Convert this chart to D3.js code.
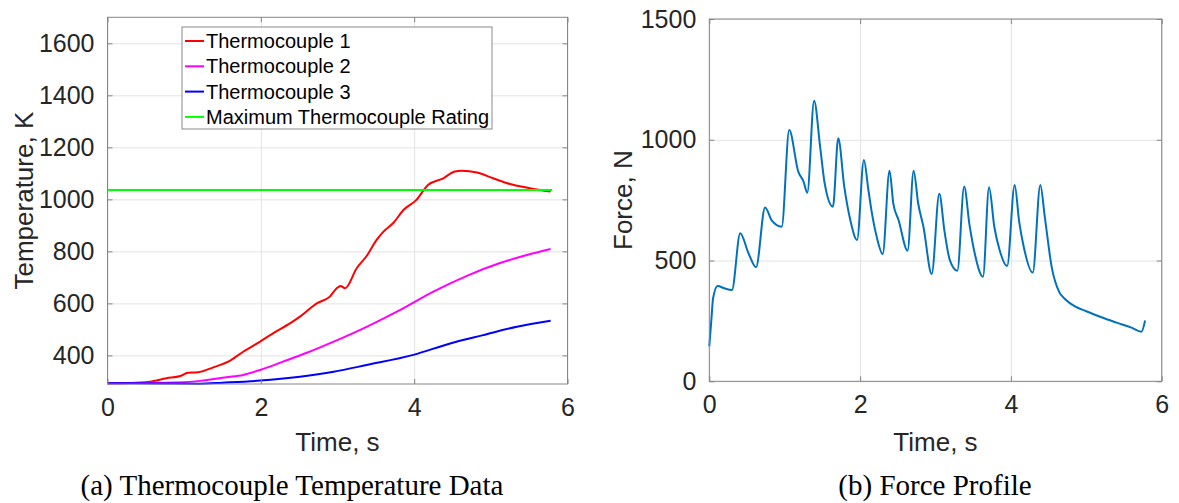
<!DOCTYPE html>
<html>
<head>
<meta charset="utf-8">
<script src="https://cdn.jsdelivr.net/npm/d3@7"></script>
<style>
  body { margin: 0; background: #fff; }
  svg { display: block; }
</style>
</head>
<body>
<div id="fig"></div>
<script>
// Thermocouple readings (time in s, temperature in K)
var tc1Time = [0, 0.3, 0.55, 0.77, 0.95, 1.05, 1.18, 1.38, 1.6, 1.77, 1.99, 2.16, 2.38, 2.51, 2.73, 2.9, 2.99, 3.04, 3.1, 3.25, 3.38, 3.51, 3.6, 3.73, 3.86, 4.03, 4.18, 4.38, 4.53, 4.62, 4.82, 5.03, 5.25, 5.51, 5.78];
var tc1Temp = [293, 294, 299, 312, 321, 333, 335, 354, 380, 414, 453, 485, 523, 549, 600, 626, 658, 667, 658, 735, 782, 844, 876, 910, 959, 998, 1055, 1081, 1107, 1110, 1103, 1081, 1059, 1043, 1030];

var tc2Time = [0, 0.77, 1.21, 1.55, 1.77, 1.99, 2.29, 2.6, 2.95, 3.38, 3.82, 4.25, 4.68, 5.12, 5.47, 5.78];
var tc2Temp = [293, 295, 302, 316, 325, 344, 376, 410, 453, 510, 575, 645, 705, 755, 786, 809];

var tc3Time = [0, 0.6, 1.2, 1.5, 1.99, 2.51, 2.95, 3.38, 3.99, 4.47, 4.9, 5.34, 5.78];
var tc3Temp = [293, 292, 291, 295, 303, 318, 337, 363, 402, 446, 478, 510, 533];

var ratingTemp = 1036;
var ratingTime = [0, 5.8];

// Force profile (time in s, force in N)
var forceTime = [0, 0.03, 0.05, 0.11, 0.2, 0.3, 0.41, 0.52, 0.62, 0.74, 0.83, 0.96, 1.06, 1.18, 1.25, 1.3, 1.39, 1.47, 1.53, 1.64, 1.71, 1.79, 1.87, 1.96, 2.05, 2.11, 2.15, 2.22, 2.3, 2.39, 2.44, 2.51, 2.63, 2.71, 2.77, 2.84, 2.95, 3.05, 3.12, 3.19, 3.29, 3.38, 3.45, 3.52, 3.63, 3.71, 3.78, 3.85, 3.95, 4.05, 4.11, 4.17, 4.29, 4.39, 4.45, 4.54, 4.64, 4.72, 4.85, 5.0, 5.2, 5.4, 5.6, 5.73, 5.78];
var force = [145, 266, 344, 395, 385, 378, 613, 530, 472, 720, 665, 640, 1040, 868, 827, 781, 1162, 971, 820, 723, 1006, 806, 668, 585, 916, 792, 709, 599, 527, 872, 737, 668, 541, 872, 737, 640, 444, 776, 620, 502, 458, 806, 650, 530, 433, 803, 640, 544, 477, 813, 660, 557, 450, 813, 680, 475, 370, 340, 310, 290, 265, 243, 222, 205, 252];

var timeTicks = [0, 2, 4, 6];
var tempTicks = [400, 600, 800, 1000, 1200, 1400, 1600];
var forceTicks = [0, 500, 1000, 1500];

var legendNames = ["Thermocouple 1", "Thermocouple 2", "Thermocouple 3", "Maximum Thermocouple Rating"];
var legendColors = ["#ff0000", "#ff00ff", "#0000ff", "#00ff00"];

var width = 1179, height = 503;
var sansFont = "'Liberation Sans', Arial, sans-serif";
var serifFont = "'Liberation Serif', 'Times New Roman', serif";

var svg = d3.select("#fig")
  .append("svg")
  .attr("width", width)
  .attr("height", height)
  .style("font-family", sansFont);

// draws one matlab-style axes box with grid, ticks and labels
function makeAxes(box, xDomain, yDomain, xTicks, yTicks, xTitle, yTitle, yTitleX) {
  var x = d3.scaleLinear().domain(xDomain).range([box.left, box.right]);
  var y = d3.scaleLinear().domain(yDomain).range([box.bottom, box.top]);
  var g = svg.append("g");

  // grid
  g.append("g")
    .attr("transform", `translate(0,${box.bottom})`)
    .call(d3.axisBottom(x).tickValues(xTicks).tickSize(-(box.bottom - box.top)).tickFormat(""))
    .call(a => a.select(".domain").remove())
    .call(a => a.selectAll(".tick line").attr("stroke", "#e3e3e3").attr("stroke-width", 1));
  g.append("g")
    .attr("transform", `translate(${box.left},0)`)
    .call(d3.axisLeft(y).tickValues(yTicks).tickSize(-(box.right - box.left)).tickFormat(""))
    .call(a => a.select(".domain").remove())
    .call(a => a.selectAll(".tick line").attr("stroke", "#e3e3e3").attr("stroke-width", 1));

  var plot = g.append("g");

  // box and inward ticks
  var frame = g.append("g");
  frame.append("rect")
    .attr("x", box.left).attr("y", box.top)
    .attr("width", box.right - box.left).attr("height", box.bottom - box.top)
    .attr("fill", "none").attr("stroke", "#858585").attr("stroke-width", 1);

  frame.append("g")
    .attr("transform", `translate(0,${box.bottom})`)
    .call(d3.axisBottom(x).tickValues(xTicks).tickSize(-5).tickPadding(14).tickFormat(d3.format("d")))
    .call(a => a.select(".domain").remove())
    .call(a => a.selectAll(".tick line").attr("stroke", "#858585"))
    .call(a => a.selectAll("text").attr("fill", "#262626").style("font-size", "25px").style("font-family", sansFont).attr("dy", "0.71em"));
  frame.append("g")
    .attr("transform", `translate(0,${box.top})`)
    .call(d3.axisTop(x).tickValues(xTicks).tickSize(-5).tickFormat(""))
    .call(a => a.select(".domain").remove())
    .call(a => a.selectAll(".tick line").attr("stroke", "#858585"));
  frame.append("g")
    .attr("transform", `translate(${box.left},0)`)
    .call(d3.axisLeft(y).tickValues(yTicks).tickSize(-5).tickPadding(13).tickFormat(d3.format("d")))
    .call(a => a.select(".domain").remove())
    .call(a => a.selectAll(".tick line").attr("stroke", "#858585"))
    .call(a => a.selectAll("text").attr("fill", "#262626").style("font-size", "25px").style("font-family", sansFont));
  frame.append("g")
    .attr("transform", `translate(${box.right},0)`)
    .call(d3.axisRight(y).tickValues(yTicks).tickSize(-5).tickFormat(""))
    .call(a => a.select(".domain").remove())
    .call(a => a.selectAll(".tick line").attr("stroke", "#858585"));

  // titles
  g.append("text")
    .attr("x", (box.left + box.right) / 2)
    .attr("y", 451)
    .attr("text-anchor", "middle")
    .attr("fill", "#262626")
    .style("font-size", "26px")
    .text(xTitle);
  g.append("text")
    .attr("transform", `translate(${yTitleX},${(box.top + box.bottom) / 2}) rotate(-90)`)
    .attr("text-anchor", "middle")
    .attr("fill", "#262626")
    .style("font-size", "26px")
    .text(yTitle);

  return {x: x, y: y, plot: plot, frame: frame};
}

// (a) temperatures
var boxA = {left: 107.5, right: 567.5, top: 17.3, bottom: 384};
var axA = makeAxes(boxA, [0, 6], [290, 1700], timeTicks, tempTicks, "Time, s", "Temperature, K", 33);

var tempSeries = [
  {time: tc1Time, vals: tc1Temp, color: legendColors[0]},
  {time: tc2Time, vals: tc2Temp, color: legendColors[1]},
  {time: tc3Time, vals: tc3Temp, color: legendColors[2]},
  {time: ratingTime, vals: ratingTime.map(() => ratingTemp), color: legendColors[3]}
];

var lineA = d3.line()
  .x(d => axA.x(d[0]))
  .y(d => axA.y(d[1]))
  .curve(d3.curveMonotoneX);

axA.plot.selectAll("path")
  .data(tempSeries)
  .join("path")
    .attr("fill", "none")
    .attr("stroke", d => d.color)
    .attr("stroke-width", 2)
    .attr("stroke-linejoin", "round")
    .attr("d", d => lineA(d.time.map((t, i) => [t, d.vals[i]])));

// legend
var legend = svg.append("g").attr("transform", "translate(182,27)");
legend.append("rect")
  .attr("width", 310).attr("height", 102)
  .attr("fill", "#fff").attr("stroke", "#8a8a8a").attr("stroke-width", 1);
var item = legend.selectAll("g.item")
  .data(legendNames)
  .join("g")
    .attr("class", "item")
    .attr("transform", (d, i) => `translate(0,${14 + i * 25.3})`);
item.append("line")
  .attr("x1", 3).attr("x2", 22)
  .attr("stroke", (d, i) => legendColors[i])
  .attr("stroke-width", 2);
item.append("text")
  .attr("x", 24)
  .attr("dy", "0.35em")
  .attr("fill", "#000")
  .style("font-size", "20px")
  .text(d => d);

// (b) force
var boxB = {left: 709.3, right: 1161.7, top: 19, bottom: 381.3};
var axB = makeAxes(boxB, [0, 6], [0, 1500], timeTicks, forceTicks, "Time, s", "Force, N", 632);

var lineB = d3.line()
  .x(d => axB.x(d[0]))
  .y(d => axB.y(d[1]))
  .curve(d3.curveMonotoneX);

axB.plot.append("path")
  .datum(forceTime.map((t, i) => [t, force[i]]))
  .attr("fill", "none")
  .attr("stroke", "#0072bd")
  .attr("stroke-width", 2)
  .attr("stroke-linejoin", "round")
  .attr("d", lineB);

// captions under each panel
svg.append("text")
  .attr("x", 292).attr("y", 495)
  .attr("text-anchor", "middle")
  .style("font-family", serifFont)
  .style("font-size", "29px")
  .text("(a) Thermocouple Temperature Data");
svg.append("text")
  .attr("x", 935).attr("y", 495)
  .attr("text-anchor", "middle")
  .style("font-family", serifFont)
  .style("font-size", "29px")
  .text("(b) Force Profile");
</script>
</body>
</html>
